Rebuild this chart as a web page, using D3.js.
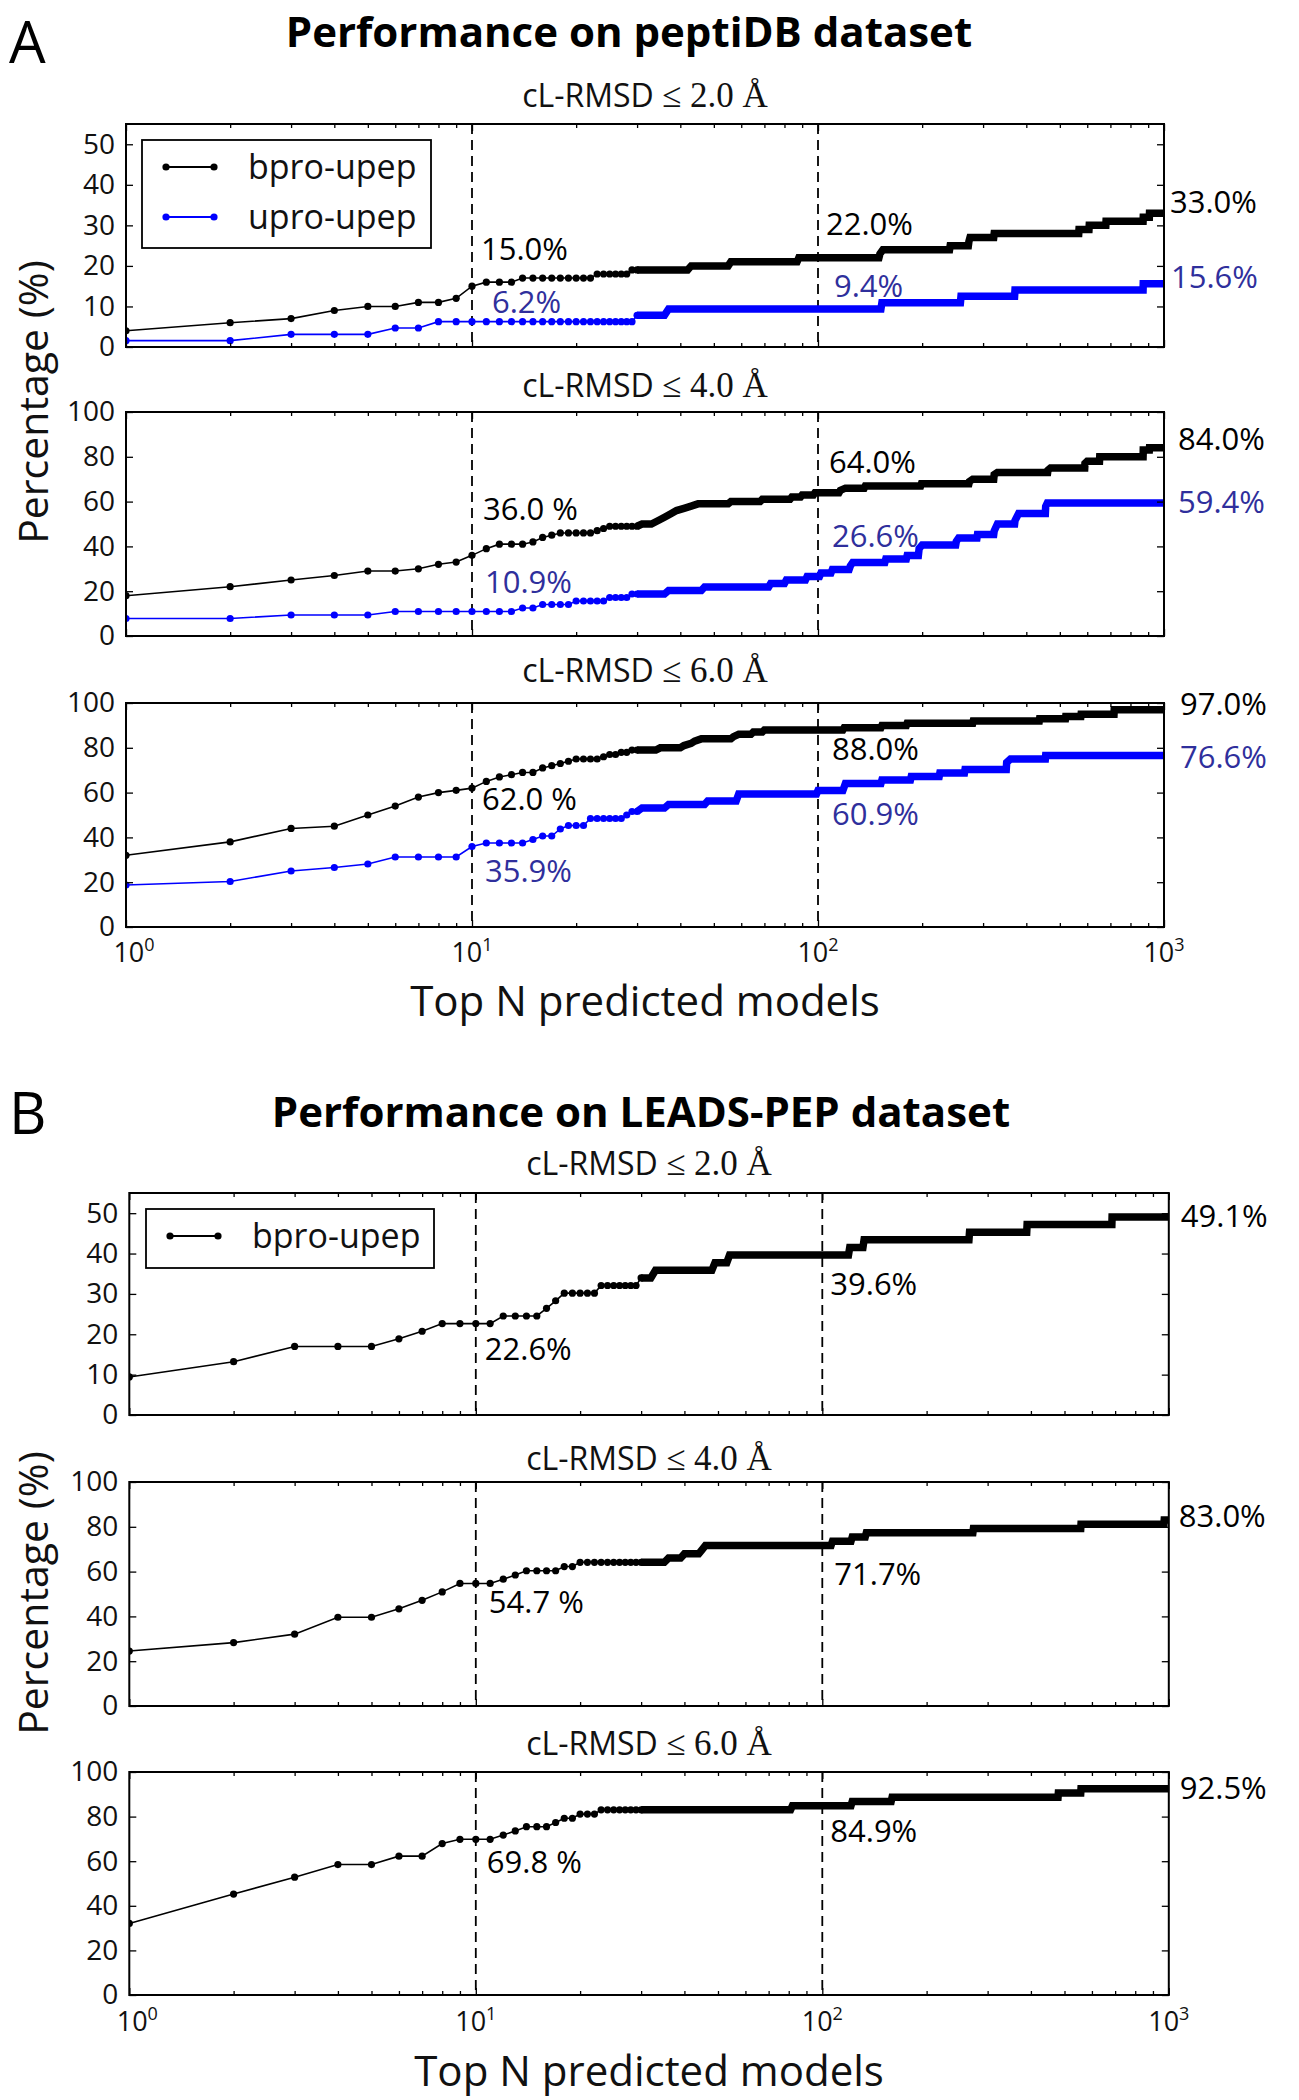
<!DOCTYPE html>
<html><head><meta charset="utf-8">
<script src="https://cdn.jsdelivr.net/npm/d3@7"></script>
<style>body{margin:0;background:#fff} text{font-family:"Open Sans",sans-serif}</style>
</head><body><script>
// ---------------- DATA ----------------
const xTickValues=[1,10,100,1000];
const xTickExponents=["0","1","2","3"];
const yTicks55=[0,10,20,30,40,50];
const yTicks100=[0,20,40,60,80,100];
const seriesNames=["bpro-upep","upro-upep"];
const panelLetters=["A","B"];
const titles=["Performance on peptiDB dataset","Performance on LEADS-PEP dataset"];
const thresholds=["2.0","4.0","6.0"];
const xLabel="Top N predicted models";
const yLabel="Percentage (%)";

// Panel A, cL-RMSD <= 2.0
const A2_bpro_pts=[[1,4],[2,6],[3,7],[4,9],[5,10],[6,10],[7,11],[8,11],[9,12],[10,15],[11,16],[12,16],[13,16],[14,17],[15,17],[16,17],[17,17],[18,17],[19,17],[20,17],[21,17],[22,17],[23,18],[24,18],[25,18],[26,18],[27,18],[28,18],[29,19],[30,19]];
const A2_bpro_steps=[[30,19],[42,19],[43,20],[55,20],[56,21],[87,21],[88,22],[150,22],[151,23],[154,24],[240,24],[241,25],[272,25],[273,26],[275,27],[322,27],[323,28],[567,28],[568,29],[607,29],[608,30],[679,30],[680,31],[870,31],[871,32],[907,32],[908,33],[1000,33]];
const A2_upro_pts=[[1,1.5625],[2,1.5625],[3,3.125],[4,3.125],[5,3.125],[6,4.6875],[7,4.6875],[8,6.25],[9,6.25],[10,6.25],[11,6.25],[12,6.25],[13,6.25],[14,6.25],[15,6.25],[16,6.25],[17,6.25],[18,6.25],[19,6.25],[20,6.25],[21,6.25],[22,6.25],[23,6.25],[24,6.25],[25,6.25],[26,6.25],[27,6.25],[28,6.25],[29,6.25],[30,7.8125]];
const A2_upro_steps=[[30,7.8125],[36,7.8125],[37,9.375],[152,9.375],[153,10.9375],[258,10.9375],[259,12.5],[370,12.5],[371,14.0625],[870,14.0625],[871,15.625],[1000,15.625]];
const A2_labels=["15.0%","6.2%","22.0%","9.4%","33.0%","15.6%"];

// Panel A, cL-RMSD <= 4.0
const A4_bpro_pts=[[1,18],[2,22],[3,25],[4,27],[5,29],[6,29],[7,30],[8,32],[9,33],[10,36],[11,39],[12,41],[13,41],[14,41],[15,42],[16,44],[17,45],[18,46],[19,46],[20,46],[21,46],[22,46],[23,47],[24,48],[25,49],[26,49],[27,49],[28,49],[29,49],[30,49]];
const A4_bpro_steps=[[30,49],[31,50],[33,50],[34,51],[35,52],[36,53],[37,54],[38,55],[39,56],[41,57],[43,58],[45,59],[55,59],[56,60],[68,60],[69,61],[83,61],[84,62],[89,62],[90,63],[97,63],[98,64],[115,64],[116,65],[120,66],[136,66],[137,67],[198,67],[199,68],[273,68],[274,69],[280,70],[322,70],[323,72],[330,73],[461,73],[462,74],[470,75],[590,75],[591,77],[600,78],[651,78],[652,80],[870,80],[871,83],[907,83],[908,84],[1000,84]];
const A4_upro_pts=[[1,7.8125],[2,7.8125],[3,9.375],[4,9.375],[5,9.375],[6,10.9375],[7,10.9375],[8,10.9375],[9,10.9375],[10,10.9375],[11,10.9375],[12,10.9375],[13,10.9375],[14,12.5],[15,12.5],[16,14.0625],[17,14.0625],[18,14.0625],[19,14.0625],[20,15.625],[21,15.625],[22,15.625],[23,15.625],[24,15.625],[25,17.1875],[26,17.1875],[27,17.1875],[28,17.1875],[29,18.75],[30,18.75]];
const A4_upro_steps=[[30,18.75],[36,18.75],[37,20.3125],[46,20.3125],[47,21.875],[72,21.875],[73,23.4375],[80,23.4375],[81,25],[92,25],[93,26.5625],[101,26.5625],[102,28.125],[109,28.125],[110,29.6875],[123,29.6875],[124,31.25],[126,32.8125],[156,32.8125],[157,34.375],[180,34.375],[181,35.9375],[195,35.9375],[196,39.0625],[200,40.625],[250,40.625],[251,42.1875],[255,43.75],[288,43.75],[289,45.3125],[322,45.3125],[323,46.875],[330,50],[370,50],[371,51.5625],[380,54.6875],[454,54.6875],[455,57.8125],[460,59.375],[1000,59.375]];
const A4_labels=["36.0 %","10.9%","64.0%","26.6%","84.0%","59.4%"];

// Panel A, cL-RMSD <= 6.0
const A6_bpro_pts=[[1,32],[2,38],[3,44],[4,45],[5,50],[6,54],[7,58],[8,60],[9,61],[10,62],[11,65],[12,67],[13,68],[14,69],[15,69],[16,71],[17,72],[18,73],[19,74],[20,75],[21,75],[22,75],[23,75],[24,76],[25,77],[26,77],[27,78],[28,78],[29,79],[30,79]];
const A6_bpro_steps=[[30,79],[34,79],[35,80],[40,80],[41,81],[43,82],[44,83],[46,84],[56,84],[57,85],[59,86],[64,86],[65,87],[69,87],[70,88],[118,88],[119,89],[152,89],[153,90],[180,90],[181,91],[280,91],[281,92],[436,92],[437,93],[519,93],[520,94],[575,94],[576,95],[717,95],[718,97],[1000,97]];
const A6_upro_pts=[[1,18.75],[2,20.3125],[3,25],[4,26.5625],[5,28.125],[6,31.25],[7,31.25],[8,31.25],[9,31.25],[10,35.9375],[11,37.5],[12,37.5],[13,37.5],[14,37.5],[15,39.0625],[16,40.625],[17,40.625],[18,43.75],[19,45.3125],[20,45.3125],[21,45.3125],[22,48.4375],[23,48.4375],[24,48.4375],[25,48.4375],[26,48.4375],[27,48.4375],[28,50],[29,51.5625],[30,51.5625]];
const A6_upro_steps=[[30,51.5625],[31,53.125],[36,53.125],[37,54.6875],[47,54.6875],[48,56.25],[58,56.25],[59,59.375],[99,59.375],[100,60.9375],[118,60.9375],[119,62.5],[120,64.0625],[152,64.0625],[153,65.625],[185,65.625],[186,67.1875],[224,67.1875],[225,68.75],[265,68.75],[266,70.3125],[350,70.3125],[351,73.4375],[360,75],[454,75],[455,76.5625],[1000,76.5625]];
const A6_labels=["62.0 %","35.9%","88.0%","60.9%","97.0%","76.6%"];

// Panel B (bpro-upep only)
const B2_bpro_pts=[[1,9.43],[2,13.21],[3,16.98],[4,16.98],[5,16.98],[6,18.87],[7,20.75],[8,22.64],[9,22.64],[10,22.64],[11,22.64],[12,24.53],[13,24.53],[14,24.53],[15,24.53],[16,26.42],[17,28.30],[18,30.19],[19,30.19],[20,30.19],[21,30.19],[22,30.19],[23,32.08],[24,32.08],[25,32.08],[26,32.08],[27,32.08],[28,32.08],[29,32.08],[30,33.96]];
const B2_bpro_steps=[[30,33.96],[32,33.96],[33,35.85],[48,35.85],[49,37.74],[53,37.74],[54,39.62],[119,39.62],[120,41.51],[131,41.51],[132,43.40],[265,43.40],[266,45.28],[389,45.28],[390,47.17],[685,47.17],[686,49.06],[1000,49.06]];
const B2_labels=["22.6%","39.6%","49.1%"];

const B4_bpro_pts=[[1,24.53],[2,28.30],[3,32.08],[4,39.62],[5,39.62],[6,43.40],[7,47.17],[8,50.94],[9,54.72],[10,54.72],[11,54.72],[12,56.60],[13,58.49],[14,60.38],[15,60.38],[16,60.38],[17,60.38],[18,62.26],[19,62.26],[20,64.15],[21,64.15],[22,64.15],[23,64.15],[24,64.15],[25,64.15],[26,64.15],[27,64.15],[28,64.15],[29,64.15],[30,64.15]];
const B4_bpro_steps=[[30,64.15],[35,64.15],[36,66.04],[39,66.04],[40,67.92],[44,67.92],[45,69.81],[46,71.70],[106,71.70],[107,73.58],[121,73.58],[122,75.47],[133,75.47],[134,77.36],[272,77.36],[273,79.25],[557,79.25],[558,81.13],[968,81.13],[970,83.02],[1000,83.02]];
const B4_labels=["54.7 %","71.7%","83.0%"];

const B6_bpro_pts=[[1,32.08],[2,45.28],[3,52.83],[4,58.49],[5,58.49],[6,62.26],[7,62.26],[8,67.92],[9,69.81],[10,69.81],[11,69.81],[12,71.70],[13,73.58],[14,75.47],[15,75.47],[16,75.47],[17,77.36],[18,79.25],[19,79.25],[20,81.13],[21,81.13],[22,81.13],[23,83.02],[24,83.02],[25,83.02],[26,83.02],[27,83.02],[28,83.02],[29,83.02],[30,83.02]];
const B6_bpro_steps=[[30,83.02],[81,83.02],[82,84.91],[121,84.91],[122,86.79],[158,86.79],[159,88.68],[479,88.68],[480,90.57],[557,90.57],[558,92.45],[1000,92.45]];
const B6_labels=["69.8 %","84.9%","92.5%"];

// ---------------- LAYOUT / STYLE ----------------
const BLACK="#000", BLUE="#0000ff", BLUE_TXT="#2f2f9c", TXT="#111";
const W=1299,H=2100;
const svg=d3.select("body").append("svg").attr("width",W).attr("height",H);
const defs=svg.append("defs");

const bpro=(pts,steps)=>({pts,steps,color:BLACK,name:seriesNames[0]});
const upro=(pts,steps)=>({pts,steps,color:BLUE,name:seriesNames[1]});
const L=(t,n,dx,v,c)=>({t,n,dx,v,c});

const panels=[
 {letter:panelLetters[0],title:titles[0],titleX:629,titleY:47,letterY:63,left:126,right:1164,ylabelY:402,ticksY:962,xlabelY:1016,
  legend:{x0:142,y0:140,x1:431,y1:248,rows:[167,217],textX:248,ser:[0,1]},
  plots:[
   {top:124,bottom:347,ymax:55,yt:yTicks55,thr:thresholds[0],subY:107,
    series:[bpro(A2_bpro_pts,A2_bpro_steps),upro(A2_upro_pts,A2_upro_steps)],
    labels:[L(A2_labels[0],10,9,21.5,BLACK),L(A2_labels[1],10,20,8.4,BLUE_TXT),L(A2_labels[2],100,8,27.6,BLACK),L(A2_labels[3],100,16,12.3,BLUE_TXT),L(A2_labels[4],1000,6,33.0,BLACK),L(A2_labels[5],1000,7,14.5,BLUE_TXT)]},
   {top:412,bottom:636,ymax:100,yt:yTicks100,thr:thresholds[1],subY:397,
    series:[bpro(A4_bpro_pts,A4_bpro_steps),upro(A4_upro_pts,A4_upro_steps)],
    labels:[L(A4_labels[0],10,11,51.8,BLACK),L(A4_labels[1],10,13,19.2,BLUE_TXT),L(A4_labels[2],100,11,72.8,BLACK),L(A4_labels[3],100,14,39.7,BLUE_TXT),L(A4_labels[4],1000,14,83.0,BLACK),L(A4_labels[5],1000,14,54.9,BLUE_TXT)]},
   {top:703,bottom:927,ymax:100,yt:yTicks100,thr:thresholds[2],subY:682,xaxis:true,
    series:[bpro(A6_bpro_pts,A6_bpro_steps),upro(A6_upro_pts,A6_upro_steps)],
    labels:[L(A6_labels[0],10,10,52.2,BLACK),L(A6_labels[1],10,13,20.1,BLUE_TXT),L(A6_labels[2],100,14,74.6,BLACK),L(A6_labels[3],100,14,45.5,BLUE_TXT),L(A6_labels[4],1000,16,94.6,BLACK),L(A6_labels[5],1000,16,71.0,BLUE_TXT)]}
  ]},
 {letter:panelLetters[1],title:titles[1],titleX:641,titleY:1127,letterY:1134,left:129.3,right:1168.8,ylabelY:1593,ticksY:2031,xlabelY:2086,
  legend:{x0:146,y0:1209,x1:434,y1:1268,rows:[1236],textX:252,ser:[0]},
  plots:[
   {top:1193,bottom:1415,ymax:55,yt:yTicks55,thr:thresholds[0],subY:1175,
    series:[bpro(B2_bpro_pts,B2_bpro_steps)],
    labels:[L(B2_labels[0],10,9,13.6,BLACK),L(B2_labels[1],100,8,29.7,BLACK),L(B2_labels[2],1000,12,46.6,BLACK)]},
   {top:1482,bottom:1706,ymax:100,yt:yTicks100,thr:thresholds[1],subY:1470,
    series:[bpro(B4_bpro_pts,B4_bpro_steps)],
    labels:[L(B4_labels[0],10,13,41.5,BLACK),L(B4_labels[1],100,12,54.0,BLACK),L(B4_labels[2],1000,10,79.9,BLACK)]},
   {top:1772,bottom:1995,ymax:100,yt:yTicks100,thr:thresholds[2],subY:1755,xaxis:true,
    series:[bpro(B6_bpro_pts,B6_bpro_steps)],
    labels:[L(B6_labels[0],10,11,54.7,BLACK),L(B6_labels[1],100,8,68.6,BLACK),L(B6_labels[2],1000,11,87.9,BLACK)]}
  ]}
];

let clipN=0;
const line=(x,y)=>d3.line().x(d=>x(d[0])).y(d=>y(d[1]));

function drawPlot(pn,p){
  const g=svg.append("g");
  const x=d3.scaleLog().domain([1,1000]).range([pn.left,pn.right]);
  const y=d3.scaleLinear().domain([0,p.ymax]).range([p.bottom,p.top]);
  const id="clip"+(clipN++);
  defs.append("clipPath").attr("id",id).append("rect")
    .attr("x",pn.left).attr("y",p.top).attr("width",pn.right-pn.left).attr("height",p.bottom-p.top);
  // subtitle
  const st=g.append("text").attr("x",(pn.left+pn.right)/2).attr("y",p.subY).attr("text-anchor","middle").attr("font-size",32).attr("fill",TXT);
  st.append("tspan").text("cL-RMSD ");
  st.append("tspan").attr("font-family","'Liberation Serif','DejaVu Serif',serif").attr("font-size",35).text("\u2264 "+p.thr+" \u00C5");
  // dashed reference lines
  [10,100].forEach(n=>g.append("line").attr("x1",x(n)).attr("x2",x(n)).attr("y1",p.top).attr("y2",p.bottom)
     .attr("stroke",BLACK).attr("stroke-width",1.8).attr("stroke-dasharray","10,6"));
  // series
  const cg=g.append("g").attr("clip-path",`url(#${id})`);
  const ln=line(x,y);
  p.series.forEach(s=>{
    cg.append("path").attr("d",ln(s.pts.concat(s.steps))).attr("fill","none").attr("stroke",s.color).attr("stroke-width",1.6);
    cg.append("path").attr("d",ln(s.steps)).attr("fill","none").attr("stroke",s.color).attr("stroke-width",7.5).attr("stroke-linejoin","miter");
    cg.selectAll(null).data(s.pts).join("circle").attr("cx",d=>x(d[0])).attr("cy",d=>y(d[1])).attr("r",3.6).attr("fill",s.color);
  });
  // axes ticks (inward)
  const minor=x.ticks().filter(v=>!xTickValues.includes(v));
  const ax=(gen)=>{const a=g.append("g").call(gen); a.select(".domain").remove(); a.selectAll("line").attr("stroke",BLACK).attr("stroke-width",1.3); return a;};
  ax(d3.axisBottom(x).tickValues(xTickValues).tickSize(-7).tickFormat("")).attr("transform",`translate(0,${p.bottom})`);
  ax(d3.axisBottom(x).tickValues(minor).tickSize(-4).tickFormat("")).attr("transform",`translate(0,${p.bottom})`);
  ax(d3.axisTop(x).tickValues(xTickValues).tickSize(-7).tickFormat("")).attr("transform",`translate(0,${p.top})`);
  ax(d3.axisTop(x).tickValues(minor).tickSize(-4).tickFormat("")).attr("transform",`translate(0,${p.top})`);
  const ya=ax(d3.axisLeft(y).tickValues(p.yt).tickSize(-7).tickPadding(11)).attr("transform",`translate(${pn.left},0)`);
  ya.selectAll("text").attr("font-size",28).attr("font-family","'Open Sans',sans-serif").attr("fill",TXT);
  ax(d3.axisRight(y).tickValues(p.yt).tickSize(-7).tickFormat("")).attr("transform",`translate(${pn.right},0)`);
  // frame
  g.append("rect").attr("x",pn.left).attr("y",p.top).attr("width",pn.right-pn.left).attr("height",p.bottom-p.top)
    .attr("fill","none").attr("stroke",BLACK).attr("stroke-width",2);
  // annotations
  p.labels.forEach(l=>g.append("text").attr("x",x(l.n)+l.dx).attr("y",y(l.v)).attr("font-size",31).attr("fill",l.c).text(l.t));
  // x tick labels
  if(p.xaxis){
    xTickValues.forEach((v,i)=>{
      const t=g.append("text").attr("x",x(v)+(i===0?8:0)).attr("y",pn.ticksY).attr("text-anchor","middle").attr("font-size",27).attr("fill",TXT);
      t.append("tspan").text("10");
      t.append("tspan").attr("font-size",18).attr("dy",-11).text(xTickExponents[i]);
    });
    g.append("text").attr("x",(pn.left+pn.right)/2).attr("y",pn.xlabelY).attr("text-anchor","middle").attr("font-size",42).attr("fill",TXT).text(xLabel);
  }
  return {x,y};
}

panels.forEach(pn=>{
  svg.append("text").attr("x",9).attr("y",pn.letterY).attr("font-size",58).attr("fill","#000").text(pn.letter);
  svg.append("text").attr("x",pn.titleX).attr("y",pn.titleY).attr("text-anchor","middle").attr("font-size",42).attr("font-weight","bold").attr("fill","#000").text(pn.title);
  pn.plots.forEach(p=>drawPlot(pn,p));
  svg.append("text").attr("transform",`translate(48,${pn.ylabelY}) rotate(-90)`).attr("text-anchor","middle").attr("font-size",41).attr("fill",TXT).text(yLabel);
  // legend
  const lg=pn.legend;
  svg.append("rect").attr("x",lg.x0).attr("y",lg.y0).attr("width",lg.x1-lg.x0).attr("height",lg.y1-lg.y0).attr("fill","#fff").attr("stroke",BLACK).attr("stroke-width",1.8);
  lg.rows.forEach((ry,i)=>{
    const s=pn.plots[0].series[lg.ser[i]];
    const lx0=lg.x0+24, lx1=lg.x0+72;
    svg.append("line").attr("x1",lx0).attr("x2",lx1).attr("y1",ry).attr("y2",ry).attr("stroke",s.color).attr("stroke-width",1.8);
    [lx0,lx1].forEach(cx=>svg.append("circle").attr("cx",cx).attr("cy",ry).attr("r",3.6).attr("fill",s.color));
    svg.append("text").attr("x",lg.textX).attr("y",ry+12).attr("font-size",34).attr("fill",TXT).text(s.name);
  });
});
</script></body></html>
